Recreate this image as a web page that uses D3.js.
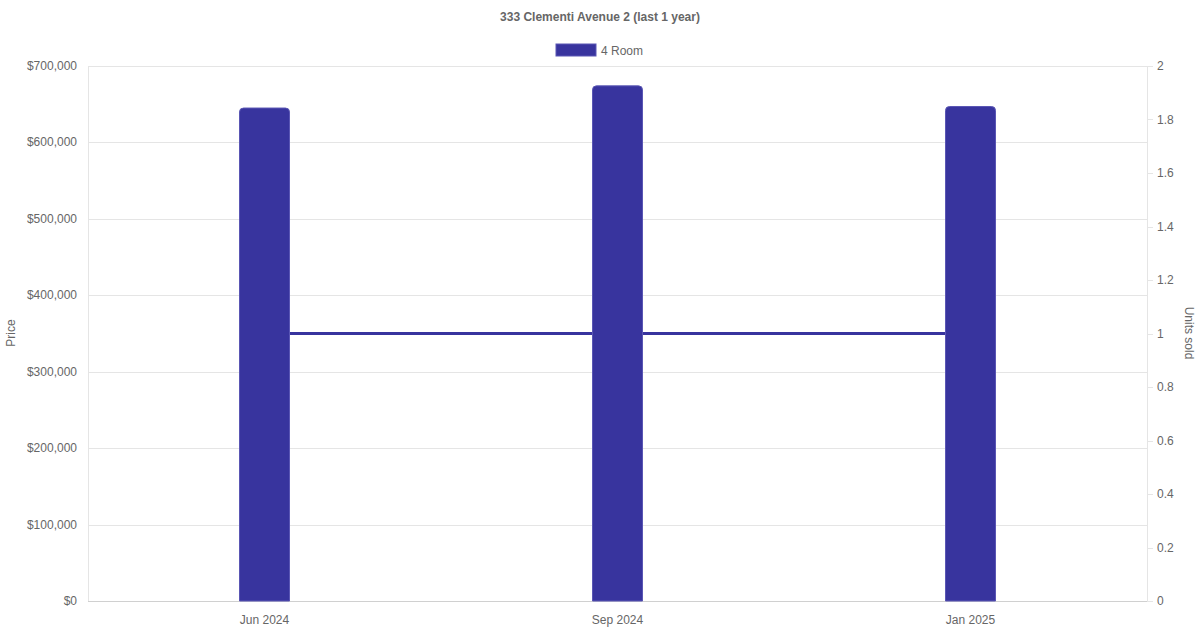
<!DOCTYPE html>
<html><head><meta charset="utf-8">
<script src="https://cdn.jsdelivr.net/npm/d3@7"></script>
<style>body{margin:0;background:#fff}svg{display:block;font-family:"Liberation Sans",Arial,sans-serif}</style>
</head><body><svg id="c" width="1200" height="630"></svg>
<script>
const categories = ["Jun 2024", "Sep 2024", "Jan 2025"];
const priceValues = [645000, 674000, 647000];
const unitsValues = [1, 1, 1];
const priceTicks = [0,100000,200000,300000,400000,500000,600000,700000];
const unitTicks = [0,0.2,0.4,0.6,0.8,1,1.2,1.4,1.6,1.8,2];
const seriesName = "4 Room";
const title = "333 Clementi Avenue 2 (last 1 year)";

const W=1200,H=630, L=88, R=1147, T=66, B=601;
const color="#38349e", txt="#666", grid="#e5e5e5";
const svg=d3.select("#c");
const x=d3.scaleBand().domain(categories).range([L,R]);
const y=d3.scaleLinear().domain([0,700000]).range([B,T]);
const y2=d3.scaleLinear().domain([0,2]).range([B,T]);

// title
svg.append("text").attr("x",600).attr("y",21).attr("text-anchor","middle")
  .attr("font-size",12).attr("font-weight","bold").attr("fill",txt).text(title);
// legend
svg.append("rect").attr("x",556).attr("y",44).attr("width",40).attr("height",12).attr("fill",color).attr("stroke","#5a56b4").attr("stroke-width",1);
svg.append("text").attr("x",601).attr("y",54.5).attr("font-size",12).attr("fill",txt).text(seriesName);

// gridlines
svg.append("g").selectAll("line").data(priceTicks.filter(d=>d>0)).join("line")
  .attr("x1",L).attr("x2",R).attr("y1",d=>Math.round(y(d))+0.5).attr("y2",d=>Math.round(y(d))+0.5)
  .attr("stroke",grid);
// axis borders
svg.append("line").attr("x1",L+0.5).attr("x2",L+0.5).attr("y1",T).attr("y2",B).attr("stroke",grid);
svg.append("line").attr("x1",R+0.5).attr("x2",R+0.5).attr("y1",T).attr("y2",B).attr("stroke",grid);
svg.append("line").attr("x1",L).attr("x2",R).attr("y1",B+0.5).attr("y2",B+0.5).attr("stroke","#d0d0d0");

// left axis labels
const fmt=d3.format("$,");
svg.append("g").selectAll("text").data(priceTicks).join("text")
  .attr("x",77).attr("y",d=>y(d)+4).attr("text-anchor","end").attr("font-size",12).attr("fill",txt).text(d=>fmt(d));
// right axis ticks & labels
svg.append("g").selectAll("line").data(unitTicks).join("line")
  .attr("x1",R).attr("x2",R+6).attr("y1",d=>Math.round(y2(d))+0.5).attr("y2",d=>Math.round(y2(d))+0.5).attr("stroke",grid);
svg.append("g").selectAll("text").data(unitTicks).join("text")
  .attr("x",1157).attr("y",d=>y2(d)+4).attr("font-size",12).attr("fill",txt).text(d=>d3.format("~g")(d));
// x labels
svg.append("g").selectAll("text").data(categories).join("text")
  .attr("x",d=>x(d)+x.bandwidth()/2).attr("y",624).attr("text-anchor","middle").attr("font-size",12).attr("fill",txt).text(d=>d);
// axis titles
svg.append("text").attr("transform","translate(15,333) rotate(-90)").attr("text-anchor","middle").attr("font-size",12).attr("fill",txt).text("Price");
svg.append("text").attr("transform","translate(1185,333) rotate(90)").attr("text-anchor","middle").attr("font-size",12).attr("fill",txt).text("Units sold");

// line (behind bars)
const line=d3.line().x((d,i)=>x(categories[i])+x.bandwidth()/2).y(d=>y2(d));
svg.append("path").datum(unitsValues).attr("d",line).attr("fill","none").attr("stroke",color).attr("stroke-width",3);

// bars
const bw=50, r=4;
svg.append("g").selectAll("path").data(priceValues).join("path")
  .attr("d",(d,i)=>{
    const cx=x(categories[i])+x.bandwidth()/2, x0=cx-bw/2, x1=cx+bw/2, yt=y(d), yb=y(0);
    return `M${x0},${yb}V${yt+r}Q${x0},${yt} ${x0+r},${yt}H${x1-r}Q${x1},${yt} ${x1},${yt+r}V${yb}Z`;
  })
  .attr("fill",color).attr("stroke","#5a56b4").attr("stroke-width",1);
</script></body></html>
